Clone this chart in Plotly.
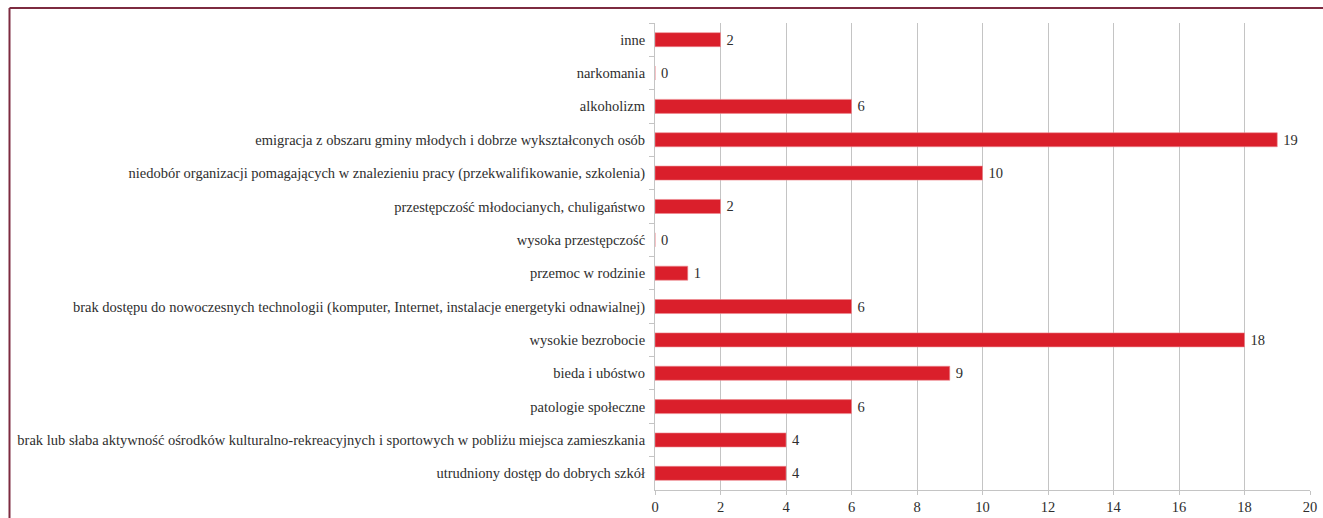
import plotly.graph_objects as go

# Problemy społeczne w gminie – liczba wskazań
categories = [
    "inne",
    "narkomania",
    "alkoholizm",
    "emigracja z obszaru gminy młodych i dobrze wykształconych osób",
    "niedobór organizacji pomagających w znalezieniu pracy (przekwalifikowanie, szkolenia)",
    "przestępczość młodocianych, chuligaństwo",
    "wysoka przestępczość",
    "przemoc w rodzinie",
    "brak dostępu do nowoczesnych technologii (komputer, Internet, instalacje energetyki odnawialnej)",
    "wysokie bezrobocie",
    "bieda i ubóstwo",
    "patologie społeczne",
    "brak lub słaba aktywność ośrodków kulturalno-rekreacyjnych i sportowych w pobliżu miejsca zamieszkania",
    "utrudniony dostęp do dobrych szkół",
]
values = [2, 0, 6, 19, 10, 2, 0, 1, 6, 18, 9, 6, 4, 4]
x_ticks = [0, 2, 4, 6, 8, 10, 12, 14, 16, 18, 20]

FONT = "Liberation Serif"
TEXT = "#2e2e2e"
GRID = "#c4c4c4"
FRAME = "#7d2b40"

fig = go.Figure(
    go.Bar(
        x=values,
        y=categories,
        orientation="h",
        width=0.42,
        marker=dict(color="#da1f2b", line=dict(color="#ee8a90", width=0.6)),
        text=[f"\u2009{v}" for v in values],
        textposition="outside",
        constraintext="none",
        cliponaxis=False,
        textfont=dict(family=FONT, size=14.5, color=TEXT),
    )
)

fig.update_layout(
    width=1323,
    height=518,
    margin=dict(l=655, r=13, t=23, b=28),
    paper_bgcolor="white",
    plot_bgcolor="white",
    showlegend=False,
    font=dict(family=FONT, size=14.5, color=TEXT),
    shapes=[
        # ramka wykresu (górna i lewa krawędź)
        dict(type="line", xref="paper", yref="paper",
             x0=-0.9855, x1=1.1, y0=1.0321, y1=1.0321,
             line=dict(color=FRAME, width=2)),
        dict(type="line", xref="paper", yref="paper",
             x0=-0.9855, x1=-0.9855, y0=1.0321, y1=-0.1,
             line=dict(color=FRAME, width=2)),
    ],
)

fig.update_xaxes(
    range=[0, 20],
    tickvals=x_ticks,
    ticktext=[str(t) for t in x_ticks],
    automargin=False,
    showgrid=True,
    gridcolor=GRID,
    gridwidth=1,
    zeroline=False,
    showline=True,
    linecolor=GRID,
    linewidth=1,
    ticks="outside",
    ticklen=4,
    tickcolor=GRID,
    tickfont=dict(family=FONT, size=14.5, color=TEXT),
)

fig.update_yaxes(
    autorange="reversed",
    automargin=False,
    showgrid=False,
    showline=True,
    linecolor=GRID,
    linewidth=1,
    ticks="outside",
    tickson="boundaries",
    ticklen=5,
    tickcolor=GRID,
    ticklabelstandoff=6,
    tickfont=dict(family=FONT, size=14.5, color=TEXT),
)

fig.write_html("out.html")
